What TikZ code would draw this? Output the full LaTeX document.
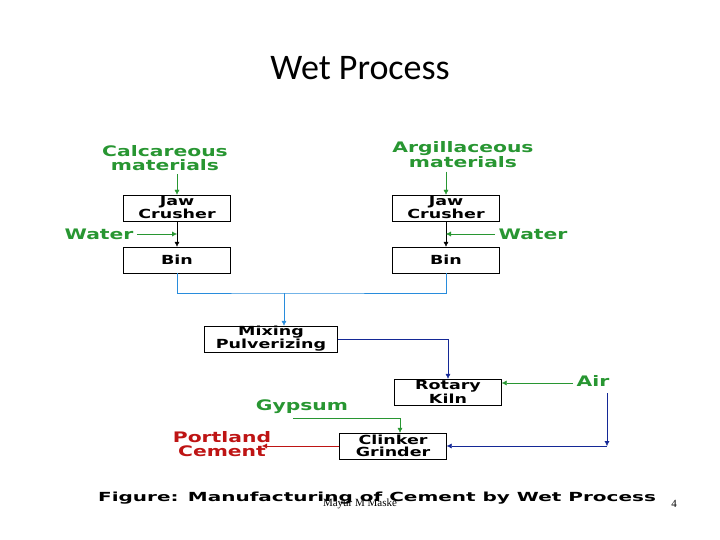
\documentclass[tikz,border=0pt]{standalone}
\usepackage{fontspec}
\setmainfont{Liberation Sans}
\newfontfamily\titlefont{Carlito}
\newfontfamily\notefont{Liberation Serif}
\newfontfamily\widefont[FakeStretch=1.4]{DejaVu Sans}
\newfontfamily\capfont[FakeStretch=1.6]{DejaVu Sans}
\usetikzlibrary{arrows.meta}
\definecolor{matgreen}{RGB}{40,150,50}
\definecolor{flowblue}{RGB}{40,140,220}
\definecolor{darkblue}{RGB}{20,40,150}
\definecolor{cemred}{RGB}{190,20,20}
\tikzset{
  unit/.style={draw, fill=white, minimum width=107pt, minimum height=26pt, inner sep=0pt, align=center, font=\widefont\bfseries\fontsize{12.5}{11.5}\selectfont},
  feed/.style={text=matgreen, align=center, font=\widefont\bfseries\fontsize{14.5}{13.5}\selectfont},
  flow/.style={-{Latex[length=5pt,width=5pt]}}
}
\begin{document}
\begin{tikzpicture}[x=1pt, y=-1pt]
    \useasboundingbox (0,0) rectangle (720,540);
    \node[font=\titlefont\fontsize{36}{40}\selectfont] (title) at (360,68) {Wet Process};
    % units
    \node[unit] (jaw1) at (177,208) {Jaw\\Crusher};
    \node[unit] (bin1) at (177,260) {Bin};
    \node[unit] (jaw2) at (446,208) {Jaw\\Crusher};
    \node[unit] (bin2) at (446,260) {Bin};
    \node[unit, minimum width=133pt] (mix) at (271,339) {Mixing\\Pulverizing};
    \node[unit] (kiln) at (448,392) {Rotary\\Kiln};
    \node[unit] (grind) at (393,446) {Clinker\\Grinder};
    % feeds
    \node[feed] (calc) at (165,158) {Calcareous\\materials};
    \node[feed] (argi) at (463,155) {Argillaceous\\materials};
    \node[feed] (water1) at (99,234) {Water};
    \node[feed] (water2) at (533,234) {Water};
    \node[feed] (air) at (593,381) {Air};
    \node[feed] (gyp) at (302,407) {Gypsum};
    \node[feed, text=cemred] (cement) at (222,444) {Portland\\Cement};
    \coordinate (join) at (284,293);
    \coordinate (airdown) at (607,393);
    \coordinate (airend) at (607,446);
    % connectors
    \draw[flow, matgreen] (calc.south -| jaw1) -- (jaw1);
    \draw[flow, matgreen] (argi.south -| jaw2) -- (jaw2);
    \draw[flow] (jaw1) -- (bin1);
    \draw[flow] (jaw2) -- (bin2);
    \draw[flow, matgreen] (water1.east) -- (water1 -| jaw1);
    \draw[flow, matgreen] (water2.west) -- (water2 -| jaw2);
    \draw[flowblue] (bin1) |- (join) -| (bin2);
    \draw[flow, flowblue] (join) -- (mix.north -| join);
    \draw[flow, darkblue] (mix) -| (kiln);
    \draw[flow, matgreen] (air.west |- 0,383) -- (kiln.east |- 0,383);
    \draw[flow, darkblue] (airdown) -- (airend);
    \draw[flow, darkblue] (airend) -- (grind);
    \draw[flow, matgreen] (293,418) -| (grind.north -| 400,0);
    \draw[flow, cemred] (grind) -- (262,446);
    % caption
    \node[font=\capfont\bfseries\fontsize{12.5}{12}\selectfont] (caption) at (377,498) {Figure: Manufacturing of Cement by Wet Process};
    \node[font=\notefont\fontsize{11}{12}\selectfont] (author) at (360,504) {Mayur M Maske};
    \node[font=\notefont\fontsize{11}{12}\selectfont] (page) at (674,504) {4};
\end{tikzpicture}
\end{document}
